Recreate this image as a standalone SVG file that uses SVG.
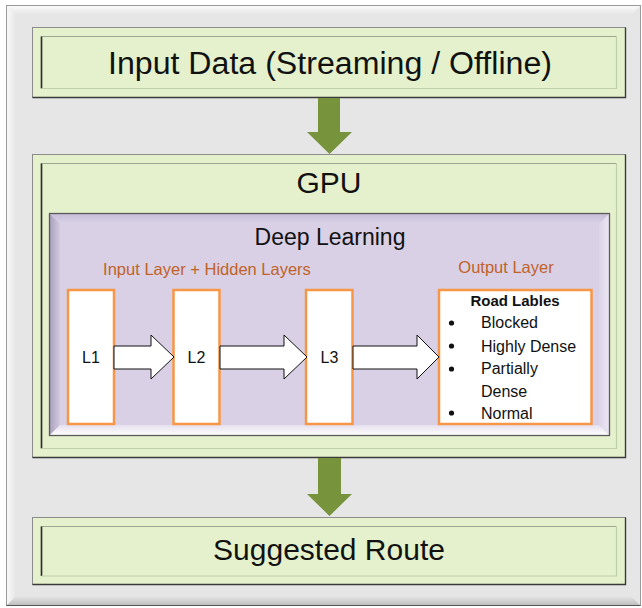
<svg xmlns="http://www.w3.org/2000/svg" width="642" height="608" viewBox="0 0 642 608">
<defs>
<style>
.t{font-family:"Liberation Sans",Arial,sans-serif;fill:#111;text-anchor:middle}
.big{font-size:30px}
.lbl{font-size:16.5px;fill:#c0622a}
.layer{fill:#fff;stroke:#f79646;stroke-width:2.5}
.ltxt{font-family:"Liberation Sans",Arial,sans-serif;font-size:16px;fill:#111}
.garrow{fill:#77933c}
.barrow{fill:#fff;stroke:#111;stroke-width:1}
.gfill{fill:#e5f1cc}
</style>
<linearGradient id="gTop" x1="0" y1="0" x2="0" y2="1"><stop offset="0" stop-color="#fbfbfb"/><stop offset="1" stop-color="#e8e8e8"/></linearGradient>
<linearGradient id="gLeft" x1="0" y1="0" x2="1" y2="0"><stop offset="0" stop-color="#fafafa"/><stop offset="1" stop-color="#e8e8e8"/></linearGradient>
<linearGradient id="gBot" x1="0" y1="0" x2="0" y2="1"><stop offset="0" stop-color="#e2e2e2"/><stop offset="1" stop-color="#bdbdbd"/></linearGradient>
<linearGradient id="pLeft" x1="0" y1="0" x2="1" y2="0"><stop offset="0" stop-color="#a89fbd"/><stop offset="1" stop-color="#d3cae0"/></linearGradient>
<linearGradient id="pTop" x1="0" y1="0" x2="0" y2="1"><stop offset="0" stop-color="#c7bdd8"/><stop offset="1" stop-color="#dad2e6"/></linearGradient>
<linearGradient id="pBot" x1="0" y1="0" x2="0" y2="1"><stop offset="0" stop-color="#e6e0ee"/><stop offset="1" stop-color="#ffffff"/></linearGradient>
<linearGradient id="pRight" x1="0" y1="0" x2="1" y2="0"><stop offset="0" stop-color="#dcd4e8"/><stop offset="1" stop-color="#ece7f3"/></linearGradient>
</defs>

<g id="background">
<rect x="6.5" y="5.5" width="634" height="600" fill="#e6e6e6"/>
<polygon points="6.5,5.5 640.5,5.5 632,14 15,14" fill="url(#gTop)"/>
<polygon points="6.5,5.5 15,14 15,597 6.5,605.5" fill="url(#gLeft)"/>
<polygon points="15,597 632,597 640.5,605.5 6.5,605.5" fill="url(#gBot)"/>
<rect x="6.5" y="5.5" width="634" height="600" fill="none" stroke="#9a9a9a" stroke-width="1"/>
<line x1="6.5" y1="605.5" x2="640.5" y2="605.5" stroke="#555" stroke-width="1.2"/>
</g>

<g id="input-data">
<rect class="gfill" x="32.5" y="27.5" width="593" height="70"/>
<rect x="32.5" y="27.5" width="593" height="70" fill="none" stroke="#8c8c8c"/>
<polyline points="41.5,88 41.5,36.5 616.5,36.5" fill="none" stroke="#9da893" stroke-width="1.2"/>
<line x1="41.5" y1="36.5" x2="41.5" y2="88.5" stroke="#2e2e2e" stroke-width="1.6"/>
<polyline points="616.5,36.5 616.5,88.5 41.5,88.5" fill="none" stroke="#bfcfa8" stroke-width="1.2"/>
<polyline points="625.5,27.5 625.5,97.5 32.5,97.5" fill="none" stroke="#3a3a3a" stroke-width="1.4"/>
<text class="t" x="330" y="74" font-size="31" textLength="444" lengthAdjust="spacingAndGlyphs">Input Data (Streaming / Offline)</text>
</g>

<g id="gpu">
<rect class="gfill" x="32.5" y="154.5" width="593" height="303"/>
<rect x="32.5" y="154.5" width="593" height="303" fill="none" stroke="#8c8c8c"/>
<polyline points="41.5,448 41.5,163.5 616.5,163.5" fill="none" stroke="#9da893" stroke-width="1.2"/>
<line x1="41.5" y1="163.5" x2="41.5" y2="448.5" stroke="#2e2e2e" stroke-width="1.6"/>
<polyline points="616.5,163.5 616.5,448.5 41.5,448.5" fill="none" stroke="#bfcfa8" stroke-width="1.2"/>
<polyline points="625.5,154.5 625.5,457.5 32.5,457.5" fill="none" stroke="#3a3a3a" stroke-width="1.4"/>
<text class="t big" x="329" y="193">GPU</text>
</g>

<g id="deep-learning">
<rect x="49.5" y="213.5" width="560" height="222" fill="#d9d0e5"/>
<polygon points="49.5,213.5 609.5,213.5 599,224 60,224" fill="url(#pTop)"/>
<polygon points="49.5,213.5 60,224 60,425 49.5,435.5" fill="url(#pLeft)"/>
<polygon points="609.5,213.5 609.5,435.5 599,425 599,224" fill="url(#pRight)"/>
<polygon points="60,425 599,425 609.5,435.5 49.5,435.5" fill="url(#pBot)"/>
<rect x="49.5" y="213.5" width="560" height="222" fill="none" stroke="#5a5a5a" stroke-width="1.3"/>
<text class="t" x="330" y="245" font-size="23">Deep Learning</text>
<text class="t lbl" x="207" y="275">Input Layer + Hidden Layers</text>
<text class="t lbl" x="506" y="273">Output Layer</text>
</g>

<g id="l1">
<rect class="layer" x="68" y="290" width="46" height="134"/>
<text class="ltxt" x="91" y="363" text-anchor="middle">L1</text>
</g>
<g id="l2">
<rect class="layer" x="173.5" y="290" width="46" height="134"/>
<text class="ltxt" x="196.5" y="363" text-anchor="middle">L2</text>
</g>
<g id="l3">
<rect class="layer" x="306" y="290" width="46.5" height="134"/>
<text class="ltxt" x="329.5" y="363" text-anchor="middle">L3</text>
</g>

<g id="road-labels">
<rect class="layer" x="439" y="290" width="152.5" height="134"/>
<text class="t" x="515" y="306" font-size="15" font-weight="bold">Road Lables</text>
<g fill="#111">
<circle cx="451.5" cy="323" r="2.6"/>
<circle cx="451.5" cy="346" r="2.6"/>
<circle cx="451.5" cy="369" r="2.6"/>
<circle cx="451.5" cy="413" r="2.6"/>
</g>
<text class="ltxt" x="481" y="328">Blocked</text>
<text class="ltxt" x="481" y="351.5">Highly Dense</text>
<text class="ltxt" x="481" y="374">Partially</text>
<text class="ltxt" x="481" y="397">Dense</text>
<text class="ltxt" x="481" y="418.5">Normal</text>
</g>

<g id="suggested-route">
<rect class="gfill" x="32.5" y="517.5" width="593" height="67"/>
<rect x="32.5" y="517.5" width="593" height="67" fill="none" stroke="#8c8c8c"/>
<polyline points="41.5,576 41.5,526.5 616.5,526.5" fill="none" stroke="#9da893" stroke-width="1.2"/>
<line x1="41.5" y1="526.5" x2="41.5" y2="576" stroke="#2e2e2e" stroke-width="1.6"/>
<polyline points="616.5,526.5 616.5,576 41.5,576" fill="none" stroke="#bfcfa8" stroke-width="1.2"/>
<polyline points="625.5,517.5 625.5,584.5 32.5,584.5" fill="none" stroke="#3a3a3a" stroke-width="1.4"/>
<text class="t big" x="329" y="560">Suggested Route</text>
</g>

<g id="connectors">
<polygon class="garrow" points="318,98 340,98 340,132 352,132 329.5,154 307,132 318,132"/>
<polygon class="garrow" points="318,458 341,458 341,494 352,494 329.5,516 307,494 318,494"/>
<polygon class="barrow" points="114,346 151,346 151,335 174,357 151,379 151,369 114,369"/>
<polygon class="barrow" points="220,346 284,346 284,335 307,357 284,379 284,369 220,369"/>
<polygon class="barrow" points="353,346 417,346 417,335 439,357 417,379 417,369 353,369"/>
</g>
</svg>
